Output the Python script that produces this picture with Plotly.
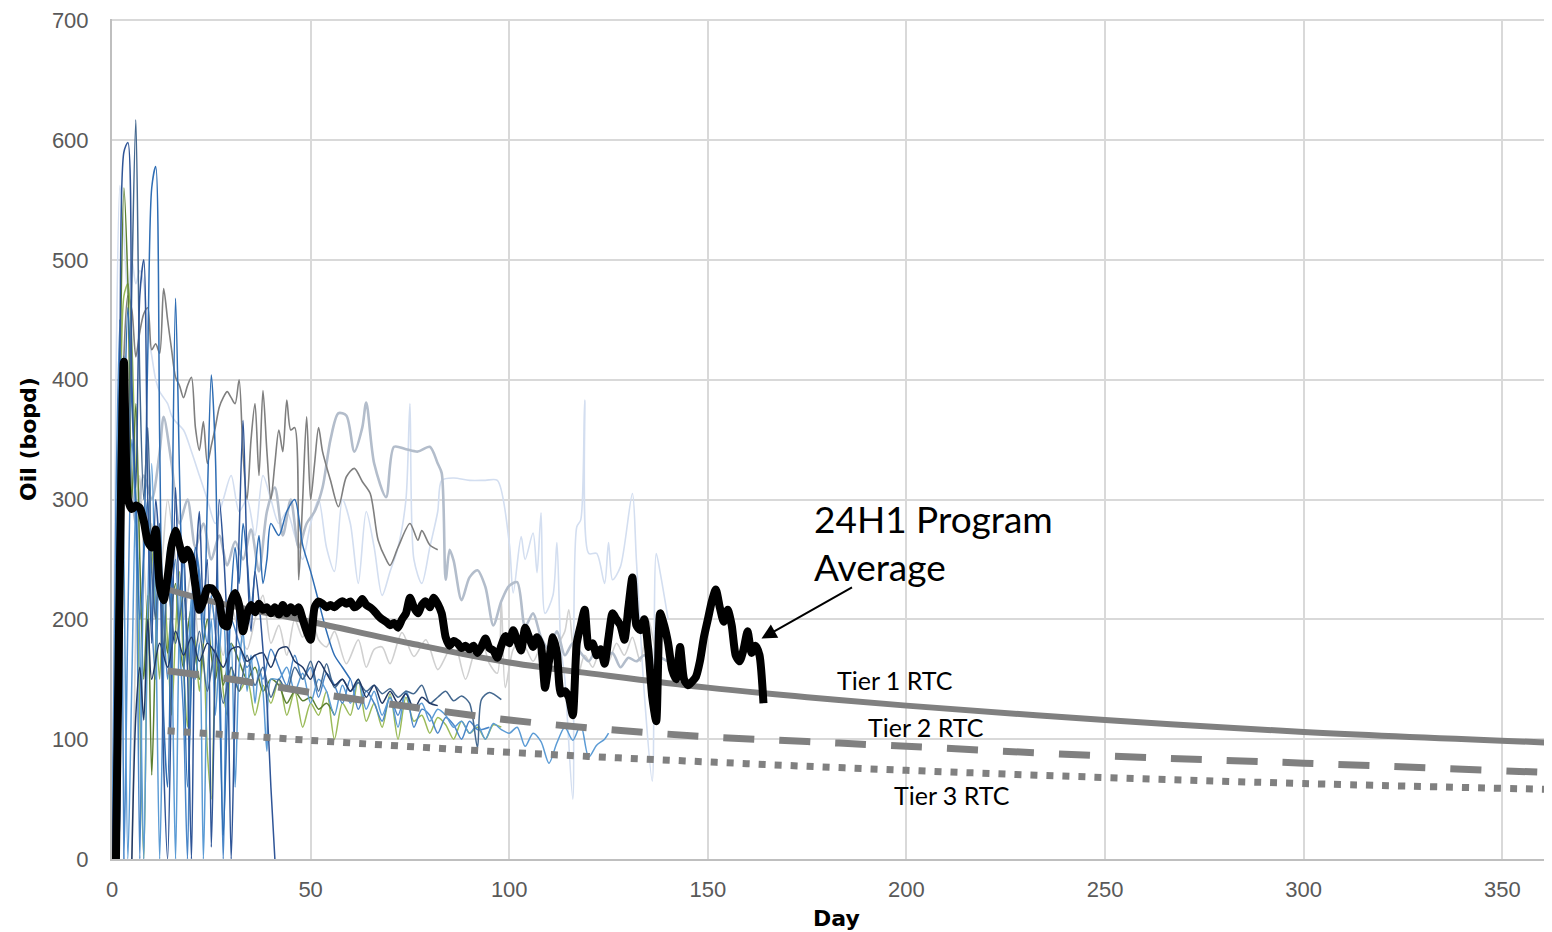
"""Oil rate by well vs type curves (24H1 program)."""

import plotly.graph_objects as go

# ---- individual wells (day, bopd) ----
w1_day = list(range(0, 42))
w1_oil = [0, 140, 430, 590, 598, 400, 310, 470, 500, 300, 180, 300, 250, 80,
          0, 150, 310, 220, 260, 160, 0, 230, 290, 210, 250, 10, 170, 300,
          260, 190, 0, 140, 270, 366, 250, 190, 240, 215, 175, 130, 60, 0]

w2_day = [0, 1, 2, 3, 4, 5, 6, 7, 8, 9, 10, 11, 12, 13, 14, 16, 18, 20, 22,
          24, 26, 28, 30, 32, 34, 36, 38, 40, 42, 44, 46, 48, 50, 52, 54, 56,
          58, 60, 62, 64, 66, 68, 70, 72, 74, 76, 78, 80, 82, 84, 86, 88, 90,
          92, 93, 95, 98]
w2_oil = [0, 80, 260, 420, 300, 480, 617, 400, 300, 360, 240, 200, 280, 170,
          230, 180, 220, 150, 190, 140, 175, 130, 160, 140, 170, 145, 160, 135,
          150, 140, 160, 150, 165, 140, 163, 143, 150, 140, 147, 140, 145, 138,
          142, 135, 140, 138, 145, 130, 135, 140, 132, 136, 130, 93, 133, 139,
          133]

w3_day = list(range(0, 41)) + [42, 44, 46, 48, 50, 52, 54, 56, 58, 60]
w3_oil = [0, 0, 180, 350, 460, 380, 300, 200, 260, 420, 560, 578, 350, 120,
          60, 250, 468, 320, 180, 60, 150, 260, 230, 180, 300, 404, 340, 150,
          20, 120, 220, 260, 230, 280, 250, 210, 240, 270, 230, 250, 280,
          270, 290, 300, 262, 240, 215, 190, 170, 160, 150]

w4_day = list(range(0, 41)) + list(range(42, 125, 2)) + [125]
w4_oil = [0, 200, 440, 250, 0, 150, 300, 180, 0, 210, 330, 200, 0, 160, 260,
          180, 0, 200, 250, 160, 220, 150, 180, 0, 150, 200, 120, 170, 210,
          150, 180, 60, 160, 190, 140, 170, 130, 160, 140, 90, 150,
          150, 160, 140, 155, 130, 150, 140, 120, 145, 130, 150, 125, 140, 120,
          135, 110, 140, 125, 130, 115, 125, 120, 110, 115, 105, 112, 100, 113,
          108, 105, 110, 94, 105, 98, 80, 97, 110, 99, 112, 85, 95, 100, 105]

w5_day = list(range(0, 31)) + list(range(32, 93, 2)) + [95]
w5_oil = [0, 300, 450, 0, 200, 350, 280, 0, 250, 300, 200, 150, 280, 200,
          150, 220, 250, 180, 120, 0, 200, 260, 240, 200, 180, 220, 190, 160,
          0, 170, 200,
          180, 160, 170, 150, 175, 160, 145, 170, 150, 160, 135, 155, 145, 130,
          150, 125, 140, 130, 115, 135, 120, 140, 110, 125, 120, 105, 118, 112,
          100, 115, 108, 110]

w6_day = list(range(0, 31)) + list(range(32, 57, 2))
w6_oil = [0, 150, 400, 560, 480, 300, 380, 250, 150, 220, 70, 180, 250, 200,
          172, 210, 230, 180, 160, 190, 210, 170, 150, 180, 200, 170, 150, 165,
          145, 160, 180,
          165, 150, 160, 140, 150, 145, 130, 140, 132, 135, 125, 130, 120]

w7_day = list(range(0, 31)) + list(range(32, 99, 2))
w7_oil = [0, 120, 300, 470, 480, 430, 300, 120, 0, 200, 260, 200, 150, 230,
          180, 120, 190, 240, 160, 110, 200, 180, 140, 170, 90, 50, 150, 180,
          140, 120, 160,
          140, 150, 120, 145, 130, 150, 120, 140, 110, 130, 120, 140, 100, 130,
          120, 150, 115, 130, 110, 138, 100, 135, 115, 120, 105, 118, 112, 100,
          115, 105, 110, 100, 112, 110]

w8_day = list(range(0, 54)) + [55, 57, 59, 61, 63, 65, 67, 69, 70, 72, 75, 77,
                               78, 80, 82]
w8_oil = [0, 200, 300, 420, 470, 458, 419, 440, 455, 460, 425, 430, 422, 476,
          450, 425, 402, 395, 385, 395, 402, 360, 341, 365, 330, 345, 360, 377,
          385, 390, 385, 380, 400, 337, 300, 350, 380, 320, 391, 340, 300, 330,
          358, 340, 383, 358, 360, 233, 300, 369, 300, 330, 360, 340,
          316, 294, 319, 326, 315, 305, 266, 250, 245, 260, 280, 266, 274, 262,
          258]

w9_day = [0, 1, 2, 3, 4, 6, 8, 10, 12, 13, 15, 17, 19, 21, 23, 25, 27, 29, 31,
          33, 35, 37, 39, 41, 43, 45, 47, 49, 51, 53, 55, 57, 59, 61, 63, 64,
          66, 69, 71, 74, 77, 80, 82, 83, 84, 85, 86, 88, 90, 92, 94, 96, 98,
          100, 102, 104, 106, 108, 110, 112, 114, 116, 118, 120, 122, 124, 126,
          128, 130, 132, 134, 136, 138, 140, 143]
w9_oil = [0, 150, 380, 300, 350, 280, 320, 300, 340, 369, 330, 280, 300, 260,
          280, 250, 270, 245, 265, 250, 275, 240, 290, 310, 270, 300, 260, 280,
          290, 310, 350, 372, 370, 340, 360, 381, 330, 302, 344, 342, 340, 344,
          330, 322, 233, 258, 249, 216, 235, 241, 227, 195, 215, 228, 231, 194,
          205, 185, 175, 190, 170, 180, 172, 165, 175, 168, 172, 160, 168, 165,
          170, 160, 168, 165, 170]

w10_day = list(range(0, 17)) + list(range(18, 75, 2)) + [
    75, 76, 78, 80, 82, 83, 86, 90, 94, 97, 100, 101, 103, 104, 106, 107, 108,
    109, 111, 112, 113, 114, 116, 117, 118, 119, 120, 122, 124, 125, 126, 128,
    131, 132, 134, 136, 137, 138, 140]
w10_oil = [0, 400, 562, 520, 470, 500, 480, 491, 480, 440, 420, 400, 390, 385,
           380, 370, 365,
           358, 340, 320, 300, 280, 300, 320, 290, 300, 270, 320, 300, 280, 290,
           270, 250, 280, 300, 260, 240, 300, 280, 230, 290, 260, 220, 240, 260,
           300,
           380, 250, 230, 260, 290, 316, 318, 316, 316, 316, 264, 222, 269, 250,
           272, 239, 289, 205, 220, 264, 177, 150, 50, 277, 283, 383, 255, 255,
           230, 264, 233, 244, 305, 250, 138, 65, 255, 239, 200]

w11_day = list(range(5, 11)) + list(range(12, 57, 2)) + [
    59, 62, 64, 66, 68, 70, 73, 76, 79, 82, 84, 86, 89, 91, 93, 95, 97, 98, 99,
    101, 103, 106, 108, 110, 112, 114, 115, 117, 119, 121, 123, 125, 127, 129,
    131, 133, 135, 137, 139, 141]
w11_oil = [0, 200, 320, 250, 200, 280,
           230, 300, 250, 200, 240, 180, 220, 200, 170, 210, 190, 175, 200, 220,
           180, 195, 170, 200, 185, 205, 183, 177, 190,
           163, 183, 160, 175, 177, 163, 189, 169, 183, 158, 169, 183, 150, 170,
           183, 163, 155, 216, 143, 175, 183, 165, 177, 160, 177, 190, 208, 150,
           170, 160, 175, 165, 180, 170, 185, 165, 200, 175, 190, 170]

w12_day = list(range(5, 11)) + list(range(12, 83, 2))
w12_oil = [0, 120, 160, 116, 200, 150,
           180, 160, 190, 170, 185, 165, 180, 172, 160, 175, 177, 165, 170, 172,
           160, 175, 177, 165, 160, 150, 165, 155, 145, 150, 140, 150, 135, 145,
           130, 140, 130, 138, 125, 135, 130, 128]

# ---- program average ----
avg_day = [1, 3, 4, 5, 6, 7, 8, 9, 10, 11, 12, 13, 14, 15, 16, 17, 18, 19, 20,
           21, 22, 23, 24, 25, 26, 27, 28, 29, 30, 31, 32, 33, 34, 35, 36, 37,
           38, 39, 40, 41, 42, 43, 44, 45, 46, 47, 48, 49, 50, 51, 52, 53, 54,
           55, 56, 57, 58, 59, 60, 61, 62, 63, 64, 65, 66, 67, 68, 69, 70, 71,
           72, 73, 74, 75, 76, 77, 78, 79, 80, 81, 82, 83, 84, 85, 86, 87, 88,
           89, 90, 91, 92, 93, 94, 95, 96, 97, 98, 99, 100, 101, 102, 103, 104,
           105, 106, 107, 108, 109, 110, 111, 112, 113, 114, 115, 116, 117,
           118, 119, 120, 121, 122, 123, 124, 125, 126, 127, 128, 129, 130,
           131, 132, 133, 134, 135, 136, 137, 138, 139, 140, 141, 142, 143,
           144, 145, 146, 147, 148, 149, 150, 151, 152, 153, 154, 155, 156,
           157, 158, 159, 160, 161, 162, 163, 164]
avg_oil = [0, 415, 300, 292, 295, 293, 282, 265, 260, 275, 228, 216, 235, 262,
           274, 262, 250, 258, 250, 228, 208, 215, 226, 226, 222, 215, 196, 194,
           215, 222, 212, 190, 205, 212, 206, 213, 208, 210, 205, 210, 204, 212,
           205, 210, 206, 210, 200, 190, 183, 210, 215, 213, 210, 212, 210, 213,
           215, 213, 215, 210, 212, 217, 212, 210, 207, 203, 200, 198, 195, 197,
           193, 200, 205, 218, 210, 205, 212, 215, 210, 218, 213, 205, 185, 178,
           182, 180, 176, 178, 175, 178, 172, 177, 184, 176, 174, 168, 178, 186,
           180, 191, 182, 174, 193, 185, 177, 185, 178, 143, 165, 185, 172, 138,
           140, 135, 120, 180, 195, 208, 177, 180, 170, 175, 163, 185, 205, 200,
           195, 183, 210, 235, 195, 191, 200, 175, 135, 115, 205, 195, 180, 158,
           150, 177, 150, 145, 148, 152, 165, 185, 200, 215, 225, 210, 198, 208,
           195, 170, 165, 175, 190, 172, 178, 170, 130]

# ---- type curves ----
t1_day = [14, 25, 50, 75, 100, 125, 150, 175, 200, 250, 300, 363]
t1_oil = [225, 215, 198, 180, 164, 153, 143, 135, 128, 116, 106, 97]
t2_day = [14, 30, 50, 75, 100, 125, 150, 175, 200, 250, 300, 363]
t2_oil = [157, 150, 139, 127, 116, 108, 102, 98, 94, 86, 80, 72]
t3_day = [14, 50, 100, 150, 200, 250, 300, 363]
t3_oil = [107, 99, 89, 81, 74, 68, 63, 58]

wells = [
    (w10_day, w10_oil, '#d3def0', 1.6),
    (w11_day, w11_oil, '#d0d0d0', 1.6),
    (w9_day, w9_oil, '#b3bdcb', 2.6),
    (w8_day, w8_oil, '#7f7f7f', 1.6),
    (w7_day, w7_oil, '#9bbb59', 1.5),
    (w6_day, w6_oil, '#5b7f31', 1.5),
    (w5_day, w5_oil, '#4a86c8', 1.5),
    (w4_day, w4_oil, '#5b9bd5', 1.5),
    (w3_day, w3_oil, '#2e6db4', 1.5),
    (w2_day, w2_oil, '#44688f', 1.5),
    (w12_day, w12_oil, '#203864', 1.5),
    (w1_day, w1_oil, '#2f5597', 1.5),
]

fig = go.Figure()

for days, oil, color, width in wells:
  fig.add_trace(
      go.Scatter(
          x=days, y=oil, mode='lines',
          line=dict(color=color, width=width, shape='spline', smoothing=0.8),
          showlegend=False, hoverinfo='skip',
      )
  )

# Type curves
fig.add_trace(go.Scatter(
    x=t3_day, y=t3_oil, mode='lines',
    line=dict(color='#808080', width=7, dash='7px,9px', shape='spline'),
    showlegend=False))
fig.add_trace(go.Scatter(
    x=t2_day, y=t2_oil, mode='lines',
    line=dict(color='#808080', width=7, dash='31px,25px', shape='spline'),
    showlegend=False))
fig.add_trace(go.Scatter(
    x=t1_day, y=t1_oil, mode='lines',
    line=dict(color='#808080', width=6, shape='spline'),
    showlegend=False))

# Program average
fig.add_trace(go.Scatter(
    x=avg_day, y=avg_oil, mode='lines',
    line=dict(color='black', width=8, shape='spline', smoothing=0.6),
    showlegend=False))

label_font = dict(family='Lato', size=25, color='black')
fig.add_annotation(x=197, y=149, text='Tier 1 RTC', showarrow=False,
                   font=label_font)
fig.add_annotation(x=205, y=110, text='Tier 2 RTC', showarrow=False,
                   font=label_font)
fig.add_annotation(x=211.5, y=53, text='Tier 3 RTC', showarrow=False,
                   font=label_font)

fig.add_annotation(x=176.2, y=264, text='24H1 Program<br>Average',
                   showarrow=False, xanchor='left', align='left',
                   font=dict(family='Lato', size=37, color='black'))
fig.add_annotation(x=163.5, y=184, ax=92, ay=-52, text='', showarrow=True,
                   arrowhead=2, arrowsize=1.5, arrowwidth=2,
                   arrowcolor='black')

# Axis titles
title_font = dict(family='DejaVu Sans', size=22, color='black')
fig.add_annotation(xref='paper', yref='paper', x=0, y=0.5, xshift=-84,
                   xanchor='center', yanchor='middle',
                   text='<b>Oil (bopd)</b>', textangle=-90, showarrow=False,
                   font=title_font)
fig.add_annotation(xref='paper', yref='paper', x=0.503, y=0, yshift=-59,
                   xanchor='center', yanchor='middle',
                   text='<b>Day</b>', showarrow=False, font=title_font)

# The page body has an 8px margin, so the figure is sized to land the plot
# area where the reference has it.
tick_font = dict(family='Liberation Sans', size=22, color='#595959')
fig.update_layout(
    width=1544, height=924,
    plot_bgcolor='white', paper_bgcolor='white',
    margin=dict(l=104, r=0, t=11, b=73),
    xaxis=dict(range=[0, 362.5], tickvals=[0, 50, 100, 150, 200, 250, 300, 350],
               showgrid=True, gridcolor='#d9d9d9', gridwidth=2,
               zeroline=False, showline=True, linecolor='#bfbfbf', linewidth=2,
               tickfont=tick_font, ticks='', ticklabelstandoff=10,
               ticklabeloverflow='allow'),
    yaxis=dict(range=[0, 701], dtick=100,
               showgrid=True, gridcolor='#d9d9d9', gridwidth=2,
               zeroline=False, showline=True, linecolor='#bfbfbf', linewidth=2,
               tickfont=tick_font, ticks='', ticklabelstandoff=17,
               ticklabeloverflow='allow'),
)

fig.write_html('out.html')
